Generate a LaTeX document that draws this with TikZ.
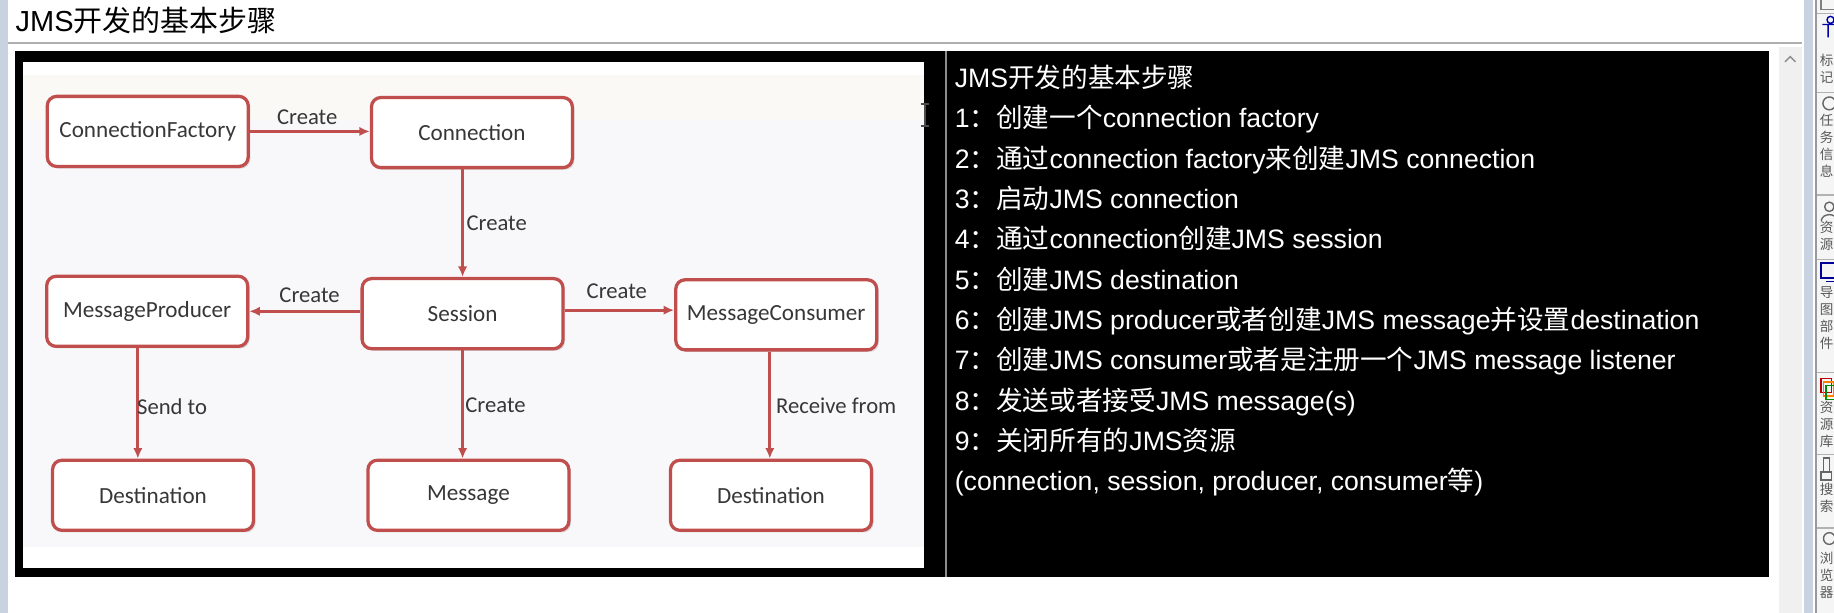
\documentclass[tikz,border=0pt]{standalone}
\usepackage{fontspec}
\setmainfont{Liberation Sans}
\newfontfamily\cjk{Noto Sans CJK SC}
\newfontfamily\boxfont{Carlito}
\usetikzlibrary{shadows,arrows.meta}
\definecolor{boxred}{RGB}{192,78,76}
\definecolor{boxtext}{RGB}{55,55,55}
\definecolor{sideblue}{RGB}{200,210,225}
\definecolor{scrollgray}{RGB}{240,240,240}
\definecolor{imgwarm}{RGB}{251,249,246}
\definecolor{imgcool}{RGB}{248,248,251}
\definecolor{rulegray}{RGB}{175,175,175}
\tikzset{
 jbox/.style={draw=boxred, line width=1.4pt, rounded corners=4pt, fill=white,
   minimum width=86pt, minimum height=30pt, inner sep=0pt,
   font=\boxfont\fontsize{9.9}{12}\selectfont, text=boxtext,
   drop shadow={shadow xshift=0.9pt, shadow yshift=-0.9pt, opacity=0.25}},
 jarrow/.style={draw=boxred, line width=1.2pt, -{Latex[length=4.5pt,width=4pt]}},
 elab/.style={font=\boxfont\fontsize{9.7}{12}\selectfont, text=boxtext, inner sep=0pt},
 ptxt/.style={anchor=base west, inner sep=0pt, text=white, font=\fontsize{11.4}{13}\selectfont},
 sbtxt/.style={anchor=north west, inner sep=0pt, align=left, text=black!65,
   font=\cjk\fontsize{5.8}{7.3}\selectfont},
 sbicon/.style={line width=0.6pt},
}
\begin{document}
\begin{tikzpicture}[x=0.5pt,y=-0.5pt]
\useasboundingbox (0,0) rectangle (1570,524.7);
\fill[white] (0,0) rectangle (1570,524.7);
% left strip
\fill[sideblue] (0,0) rectangle (7,524.7);
% title
\node[anchor=base west, inner sep=0pt, font=\fontsize{12.4}{15}\selectfont] (title) at (13,27) {JMS{\cjk 开发的基本步骤}};
\draw[rulegray, line width=1pt] (7,37) -- (1543,37);
% black frame
\fill[black] (13,44) rectangle (1514,494);
% image area
\fill[imgcool] (20,53) rectangle (791,486);
\fill[imgwarm] (20,53) rectangle (791,103);
\fill[white] (20,53) rectangle (791,64);
\fill[white] (20,468) rectangle (791,486);
\draw[black!45, line width=0.8pt] (810,44) -- (810,494);
% boxes
\node[jbox] (cf) at (126.5,112.5) {ConnectionFactory};
\node[jbox] (conn) at (404,113.5) {Connection};
\node[jbox] (mp) at (126,266.5) {MessageProducer};
\node[jbox] (sess) at (396,268.5) {Session};
\node[jbox] (mc) at (664.5,269.5) {MessageConsumer};
\node[jbox] (d1) at (131,424) {Destination};
\node[jbox] (msg) at (401,424) {Message};
\node[jbox] (d2) at (660,424) {Destination};
% arrows
\draw[jarrow] (cf.east) -- (cf.east -| conn.west);
\draw[jarrow] (sess.north |- conn.south) -- (sess.north);
\draw[jarrow] ([yshift=1pt]sess.west) -- ([yshift=1pt]sess.west -| mp.east);
\draw[jarrow] ([yshift=1.5pt]sess.east) -- ([yshift=1.5pt]sess.east -| mc.west);
\draw[jarrow] ([xshift=-4pt]mp.south) -- ([xshift=-4pt]mp.south |- d1.north);
\draw[jarrow] (sess.south) -- (sess.south |- msg.north);
\draw[jarrow] ([xshift=-2.75pt]mc.south) -- ([xshift=-2.75pt]mc.south |- d2.north);
% labels
\node[elab] (l1) at (263,100) {Create};
\node[elab, anchor=west] (l2) at (399,191) {Create};
\node[elab] (l3) at (265,253) {Create};
\node[elab] (l4) at (528,249) {Create};
\node[elab, anchor=west] (l5) at (117,348) {Send to};
\node[elab, anchor=west] (l6) at (398,347) {Create};
\node[elab, anchor=west] (l7) at (664,347) {Receive from};
% cursor
\draw[black!70, line width=0.8pt] (788,89) -- (795,89) (791.5,89) -- (791.5,108) (788,108) -- (795,108);
% panel text
\node[ptxt] (t0) at (817,75) {JMS{\cjk 开发的基本步骤}};
\node[ptxt] (t1) at (817,109.5) {1{\cjk ：创建一个}connection factory};
\node[ptxt] (t2) at (817,144) {2{\cjk ：通过}connection factory{\cjk 来创建}JMS connection};
\node[ptxt] (t3) at (817,178.5) {3{\cjk ：启动}JMS connection};
\node[ptxt] (t4) at (817,213) {4{\cjk ：通过}connection{\cjk 创建}JMS session};
\node[ptxt] (t5) at (817,247.5) {5{\cjk ：创建}JMS destination};
\node[ptxt] (t6) at (817,282) {6{\cjk ：创建}JMS producer{\cjk 或者创建}JMS message{\cjk 并设置}destination};
\node[ptxt] (t7) at (817,316.5) {7{\cjk ：创建}JMS consumer{\cjk 或者是注册一个}JMS message listener};
\node[ptxt] (t8) at (817,351) {8{\cjk ：发送或者接受}JMS message(s)};
\node[ptxt] (t9) at (817,385.5) {9{\cjk ：关闭所有的}JMS{\cjk 资源}};
\node[ptxt] (t10) at (817,420) {(connection, session, producer, consumer{\cjk 等})};
% right side chrome
\fill[scrollgray] (1523,40) rectangle (1543,524.7);
\draw[black!45, line width=0.6pt] (1528,53) -- (1532.5,48.5) -- (1537,53);
\fill[sideblue] (1544,0) rectangle (1552,524.7);
\draw[black!40, line width=0.8pt] (1554.5,0) -- (1554.5,524.7);
\fill[black!4] (1555.5,0) rectangle (1570,524.7);
\foreach \yy in {11.5,79,167,222,319,389,452}
  \draw[black!30, line width=0.6pt] (1555.5,\yy) -- (1570,\yy);
\node[sbtxt] (s1) at (1557.5,46) {标\\记};
\node[sbtxt] (s2) at (1557.5,97) {任\\务\\信\\息};
\node[sbtxt] (s3) at (1557.5,189) {资\\源};
\node[sbtxt] (s4) at (1557.5,245) {导\\图\\部\\件};
\node[sbtxt] (s5) at (1557.5,343) {资\\源\\库};
\node[sbtxt] (s6) at (1557.5,413) {搜\\索};
\node[sbtxt] (s7) at (1557.5,472) {浏\\览\\器};
\begin{scope}
\clip (1555.5,0) rectangle (1570,524.7);
\draw[sbicon, black!50] (1559,0) -- (1559,8) -- (1572,8);
\draw[sbicon, blue!65!black] (1560,21) -- (1572,21) (1565,21) -- (1565,32) (1567,17) circle[radius=3];
\draw[sbicon, black!60] (1566,88.5) circle[radius=5.5];
\draw[sbicon, black!60] (1566,177) circle[radius=4] (1559,189) .. controls (1560,182) and (1572,182) .. (1573,189);
\draw[sbicon, blue!60!black] (1559,225) rectangle (1575,238) (1563,241) -- (1571,241);
\draw[sbicon, red!75!black] (1559,324) rectangle (1568,336);
\draw[sbicon, orange] (1561,327) rectangle (1570,339);
\draw[sbicon, green!55!black] (1563,330) rectangle (1572,342);
\draw[sbicon, black!60] (1561,392) rectangle (1566,404) (1559,404) rectangle (1568,411);
\draw[sbicon, black!60] (1566,461) circle[radius=5];
\end{scope}
\end{tikzpicture}
\end{document}
